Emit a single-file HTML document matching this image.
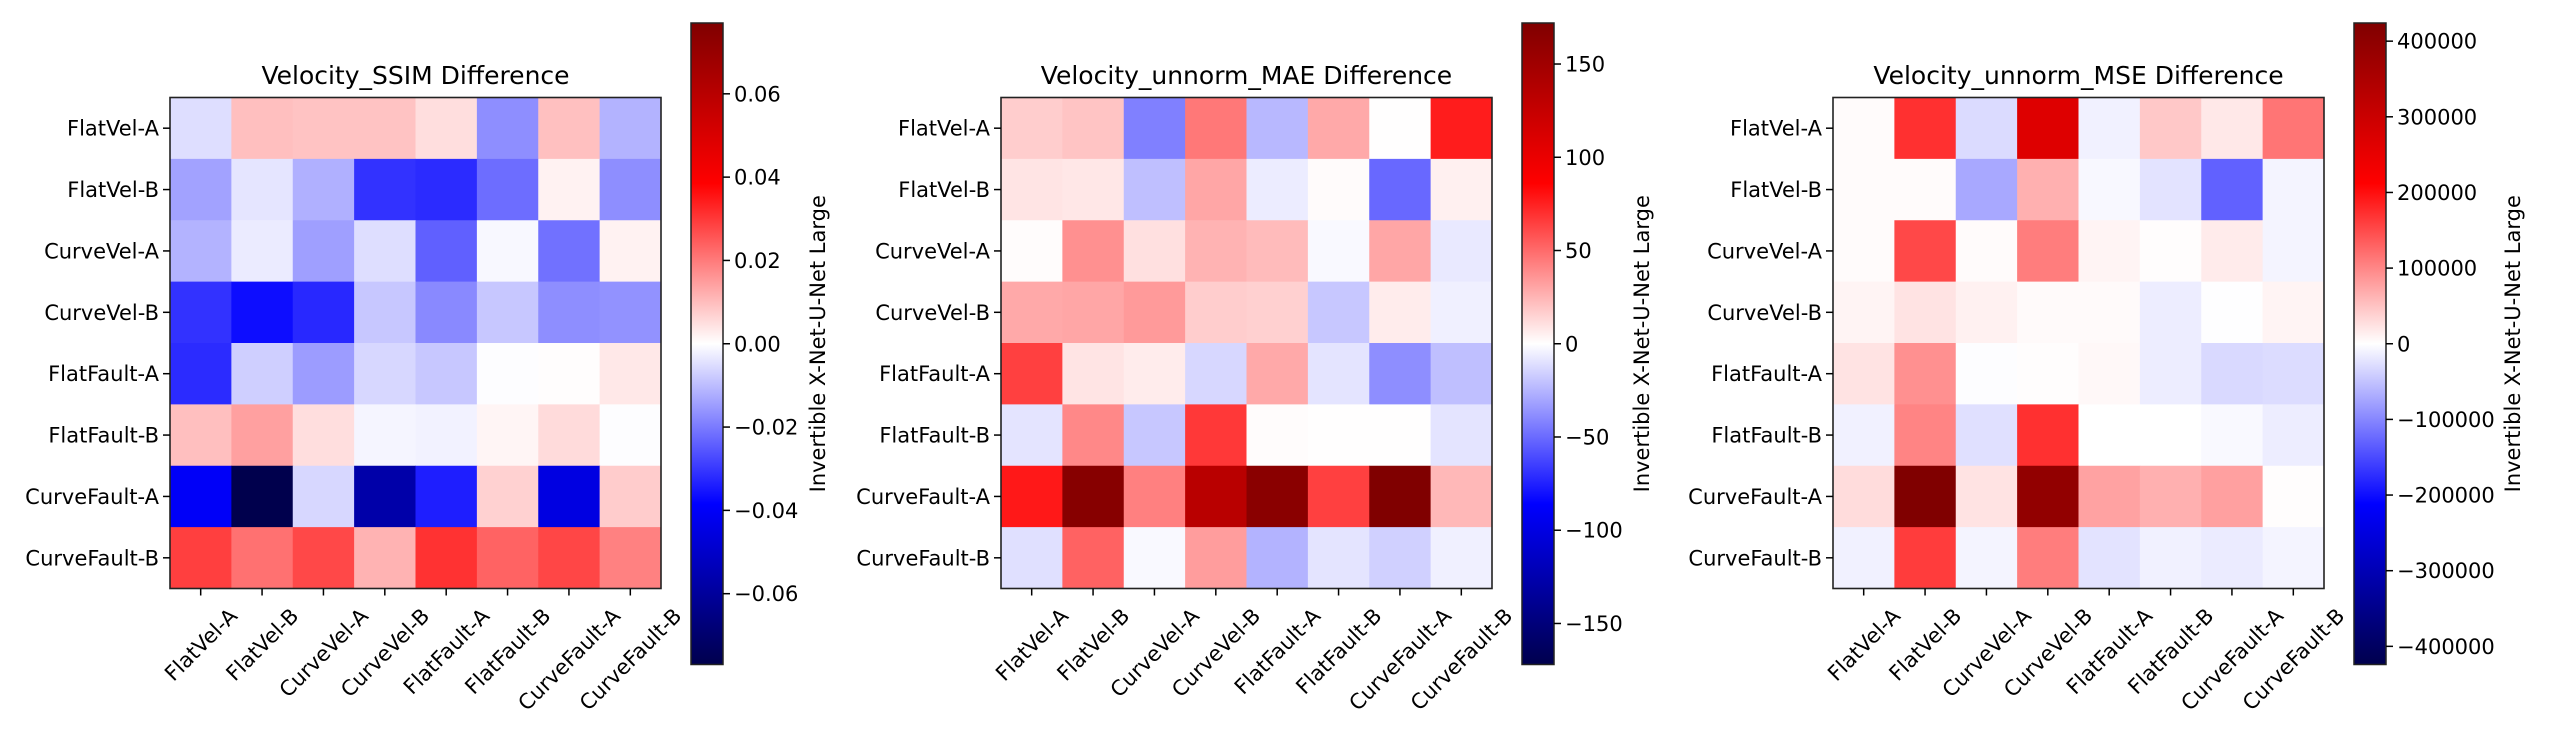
<!DOCTYPE html>
<html><head><meta charset="utf-8"><style>
html,body{margin:0;padding:0;background:#fff;}
svg{display:block;font-family:"DejaVu Sans","Liberation Sans",sans-serif;}
</style></head><body>
<svg id="fig" width="2550" height="750" viewBox="0 0 2550 750" xmlns="http://www.w3.org/2000/svg">
<defs>
<linearGradient id="seis" x1="0" y1="1" x2="0" y2="0">
<stop offset="0" stop-color="#00004d"/><stop offset="0.25" stop-color="#0000ff"/><stop offset="0.5" stop-color="#ffffff"/><stop offset="0.75" stop-color="#ff0000"/><stop offset="1" stop-color="#800000"/>
</linearGradient>
</defs>
</svg>
<script>
const categories = ["FlatVel-A","FlatVel-B","CurveVel-A","CurveVel-B","FlatFault-A","FlatFault-B","CurveFault-A","CurveFault-B"];
const ssimValues = [
[-0.005,0.0096,0.009,0.009,0.005,-0.017,0.0095,-0.0115],
[-0.014,-0.004,-0.012,-0.031,-0.032,-0.022,0.002,-0.017],
[-0.0115,-0.003,-0.0145,-0.005,-0.024,-0.001,-0.0215,0.002],
[-0.031,-0.0365,-0.0325,-0.0085,-0.0178,-0.0085,-0.017,-0.0165],
[-0.032,-0.0072,-0.015,-0.006,-0.0085,-0.0003,0.0003,0.0035],
[0.0096,0.0143,0.005,-0.0015,-0.002,0.0015,0.0055,-0.0003],
[-0.04,-0.077,-0.006,-0.057,-0.034,0.007,-0.045,0.0077],
[0.029,0.0215,0.0277,0.0115,0.031,0.0235,0.028,0.019]];
const maeValues = [
[17,20,-43,45.5,-24,29,0.5,76.5],
[9,8,-21.5,30,-6.5,1.5,-51,5],
[1,37.5,10.5,25.5,23,-2,30,-7.5],
[29,30,34,17,16,-19,6.5,-5],
[64.5,9,6.5,-13.5,29,-9,-38,-21.5],
[-9,40,-19,67,1,0.5,0.5,-9],
[78,167,43,133,165,64.5,172,24],
[-10.5,53,-2,33,-25.5,-9,-16,-5]];
const mseValues = [
[3000,172000,-30000,267000,-12000,46000,19000,115000],
[3000,3000,-72000,66000,-6000,-23000,-131000,-9000],
[3000,152000,3000,108000,9000,2000,17000,-9000],
[9000,23000,12000,4000,4000,-15000,-1000,9000],
[23000,92000,-2000,2000,6000,-15000,-32000,-29000],
[-12000,102000,-26000,172000,0,0,-5000,-15000],
[29000,424000,23000,394000,77000,66000,79000,2000],
[-12000,162000,-9000,108000,-23000,-12000,-17000,-9000]];
const ssimTicks = [-0.06,-0.04,-0.02,0,0.02,0.04,0.06];
const ssimTickLabels = ["−0.06","−0.04","−0.02","0.00","0.02","0.04","0.06"];
const maeTicks = [-150,-100,-50,0,50,100,150];
const maeTickLabels = ["−150","−100","−50","0","50","100","150"];
const mseTicks = [-400000,-300000,-200000,-100000,0,100000,200000,300000,400000];
const mseTickLabels = ["−400000","−300000","−200000","−100000","0","100000","200000","300000","400000"];
const titles = ["Velocity_SSIM Difference","Velocity_unnorm_MAE Difference","Velocity_unnorm_MSE Difference"];
const vmaxes = [0.077,172,424000];

const NS="http://www.w3.org/2000/svg";
const svg=document.getElementById('fig');
function mk(tag,attrs,parent){const e=document.createElementNS(NS,tag);for(const k in attrs)e.setAttribute(k,attrs[k]);(parent||svg).appendChild(e);return e;}
function seismic(s){
  s=Math.max(-1,Math.min(1,s));let r,g,b;
  if(s>=0){ if(s<=0.5){r=1;g=b=1-2*s;} else {r=1-(s-0.5);g=b=0;} }
  else { const a=-s; if(a<=0.5){r=g=1-2*a;b=1;} else {r=g=0;b=1-1.4*(a-0.5);} }
  return `rgb(${Math.round(r*255)},${Math.round(g*255)},${Math.round(b*255)})`;
}
const FS=21;
const panels=[
 {hx:170,cbx:691,vals:ssimValues,ticks:ssimTicks,tl:ssimTickLabels,lblx:818,name:'ssim'},
 {hx:1001,cbx:1522,vals:maeValues,ticks:maeTicks,tl:maeTickLabels,lblx:1642,name:'mae'},
 {hx:1833,cbx:2354,vals:mseValues,ticks:mseTicks,tl:mseTickLabels,lblx:2513,name:'mse'}];
const HY=97.5, HS=491, cbTop=23, cbBot=664.5, cbW=32;
panels.forEach((p,pi)=>{
  const vmax=vmaxes[pi];
  const g=mk('g',{});
  
  
  const n=categories.length, cw=HS/n;
  const xScale=i=>p.hx+i*cw, yScale=i=>HY+i*cw;
  p.vals.forEach((row,r)=>row.forEach((v,c)=>{
    const cell=mk('rect',{x:xScale(c),y:yScale(r),width:cw+0.5,height:cw+0.5,fill:seismic(v/vmax)},g);
    
    
  }));
  const fr=mk('rect',{x:p.hx,y:HY,width:HS,height:HS,fill:'none',stroke:'#222','stroke-width':1.6},g);
  
  
  const t=mk('text',{x:p.hx+HS/2,y:84,'text-anchor':'middle','font-size':25,fill:'#000'},g);
  t.textContent=titles[pi];
  
  
  categories.forEach((c,i)=>{
    const cy=yScale(i)+cw/2;
    mk('line',{x1:p.hx-7,x2:p.hx,y1:cy,y2:cy,stroke:'#000','stroke-width':1.5},g);
    const yl=mk('text',{x:p.hx-11,y:cy+7.5,'text-anchor':'end','font-size':FS,fill:'#000'},g);
    yl.textContent=c;
    
    
    const cx=xScale(i)+cw/2;
    mk('line',{x1:cx,x2:cx,y1:HY+HS,y2:HY+HS+7,stroke:'#000','stroke-width':1.5},g);
    const xl=mk('text',{x:0,y:0,'text-anchor':'middle','font-size':FS,fill:'#000'},g);
    xl.textContent=c;
    
    
    const L=xl.getComputedTextLength();
    const half=(L+FS)*0.707/2;
    xl.setAttribute('transform',`translate(${cx},${HY+HS+16+half}) rotate(-45) translate(0,7.5)`);
  });
  const cb=mk('rect',{x:p.cbx,y:cbTop,width:cbW,height:cbBot-cbTop,fill:'url(#seis)',stroke:'#222','stroke-width':1.5},g);
  
  
  const mid=(cbTop+cbBot)/2, halfH=(cbBot-cbTop)/2;
  const cbY=v=>mid-v/vmax*halfH;
  p.ticks.forEach((v,i)=>{
    const y=cbY(v);
    mk('line',{x1:p.cbx+cbW,x2:p.cbx+cbW+7,y1:y,y2:y,stroke:'#000','stroke-width':1.5},g);
    const tl=mk('text',{x:p.cbx+cbW+11,y:y+7.5,'font-size':FS,fill:'#000'},g);
    tl.textContent=p.tl[i];
    
    
  });
  const lb=mk('text',{x:0,y:0,'text-anchor':'middle','font-size':FS,fill:'#000',transform:`translate(${p.lblx+7},${mid}) rotate(-90)`},g);
  lb.textContent='Invertible X-Net-U-Net Large';
  
  
});
</script>
</body></html>
